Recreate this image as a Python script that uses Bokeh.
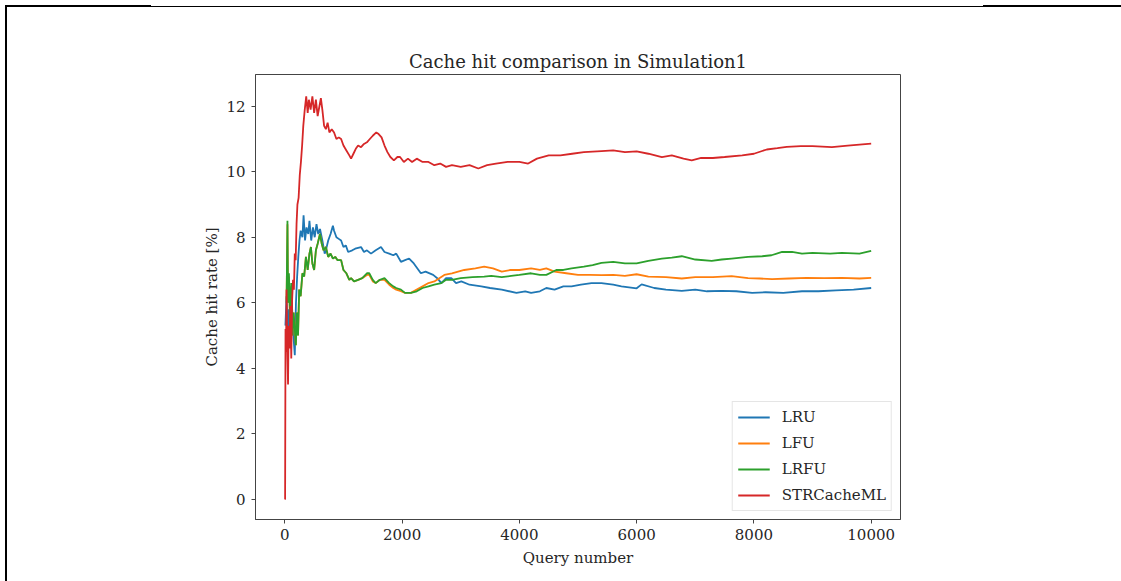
from bokeh.plotting import figure
from bokeh.models import Range1d, FixedTicker, Legend, LegendItem, Div
from bokeh.layouts import column
from bokeh.embed import file_html
from bokeh.resources import INLINE

# ---------------- data (query number, hit rate %) ----------------
LRU = [(10, 5.3), (30, 6.2), (50, 5.0), (70, 5.8), (90, 5.2), (110, 6.4), (130, 5.6), (150, 4.9),
       (170, 4.4), (190, 6.0), (210, 6.8), (230, 7.4), (250, 7.9), (270, 8.2), (300, 8.0), (320, 8.67),
       (345, 7.9), (370, 8.3), (400, 8.1), (420, 8.5), (450, 7.9), (480, 8.3), (510, 8.0), (540, 8.4),
       (570, 8.1), (600, 8.25), (640, 7.9), (680, 7.5), (700, 7.6), (740, 7.9), (780, 8.1), (820, 8.35),
       (840, 8.2), (880, 8.0), (920, 7.95), (960, 7.9), (1000, 7.7), (1040, 7.75), (1080, 7.55),
       (1150, 7.6), (1200, 7.65), (1300, 7.7), (1350, 7.55), (1400, 7.6), (1470, 7.5), (1550, 7.6),
       (1640, 7.7), (1700, 7.55), (1780, 7.5), (1850, 7.45), (1900, 7.5), (1980, 7.25), (2050, 7.3),
       (2120, 7.35), (2200, 7.2), (2320, 6.9), (2400, 6.95), (2530, 6.85), (2600, 6.75), (2670, 6.6),
       (2750, 6.75), (2840, 6.75), (2920, 6.6), (3010, 6.65), (3150, 6.55), (3350, 6.5), (3500, 6.45),
       (3700, 6.4), (3950, 6.3), (4100, 6.35), (4200, 6.3), (4350, 6.35), (4460, 6.45), (4600, 6.4),
       (4750, 6.5), (4890, 6.5), (5050, 6.55), (5230, 6.6), (5400, 6.6), (5600, 6.55), (5740, 6.5),
       (6000, 6.44), (6085, 6.56), (6300, 6.45), (6500, 6.4), (6770, 6.36), (7000, 6.4), (7200, 6.35),
       (7450, 6.36), (7700, 6.35), (7970, 6.3), (8200, 6.32), (8500, 6.3), (8820, 6.35), (9100, 6.35),
       (9400, 6.38), (9700, 6.4), (10000, 6.45)]

LFU = [(30, 6.1), (45, 8.4), (55, 6.0), (70, 6.8), (90, 5.4), (110, 6.5), (130, 5.0), (150, 5.7),
       (170, 5.2), (188, 4.7), (205, 5.7), (225, 5.0), (245, 6.4), (270, 6.2), (300, 6.9), (330, 6.8),
       (360, 7.4), (390, 7.0), (420, 7.5), (445, 7.7), (470, 7.2), (500, 7.0), (530, 7.6), (560, 7.8),
       (600, 8.1), (630, 7.8), (660, 7.6), (700, 7.7), (740, 7.4), (780, 7.5), (820, 7.35), (860, 7.4),
       (900, 7.3), (960, 7.3), (1000, 7.0), (1050, 6.9), (1100, 6.7), (1130, 6.75), (1180, 6.65),
       (1250, 6.7), (1320, 6.75), (1400, 6.85), (1440, 6.85), (1500, 6.65), (1550, 6.6), (1620, 6.7),
       (1700, 6.7), (1780, 6.55), (1850, 6.45), (1900, 6.4), (1980, 6.35), (2050, 6.3), (2150, 6.3),
       (2250, 6.4), (2350, 6.5), (2450, 6.6), (2550, 6.65), (2720, 6.85), (2850, 6.9), (3060, 7.0),
       (3250, 7.05), (3400, 7.1), (3550, 7.05), (3700, 6.95), (3850, 7.0), (4000, 7.0), (4200, 7.05),
       (4350, 7.0), (4460, 7.05), (4600, 6.95), (4800, 6.9), (5000, 6.85), (5200, 6.85), (5400, 6.84),
       (5600, 6.85), (5800, 6.82), (6000, 6.87), (6200, 6.8), (6500, 6.78), (6770, 6.74), (7000, 6.78),
       (7300, 6.78), (7620, 6.81), (7900, 6.75), (8100, 6.74), (8310, 6.72), (8600, 6.74), (8900, 6.76),
       (9200, 6.75), (9500, 6.76), (9800, 6.74), (10000, 6.76)]

LRFU = [(30, 6.0), (45, 8.5), (55, 6.0), (70, 6.9), (90, 5.4), (110, 6.6), (130, 5.0), (150, 5.7),
        (170, 5.2), (188, 4.7), (205, 5.7), (225, 5.0), (245, 6.4), (270, 6.2), (300, 6.9), (330, 6.8),
        (360, 7.4), (390, 7.0), (420, 7.5), (445, 7.7), (470, 7.2), (500, 7.0), (530, 7.6), (560, 7.8),
        (600, 8.1), (630, 7.8), (660, 7.6), (700, 7.7), (740, 7.4), (780, 7.5), (820, 7.35), (860, 7.4),
        (900, 7.3), (960, 7.3), (1000, 7.0), (1050, 6.9), (1100, 6.7), (1130, 6.75), (1180, 6.65),
        (1250, 6.7), (1320, 6.75), (1400, 6.9), (1440, 6.9), (1500, 6.7), (1550, 6.6), (1620, 6.7),
        (1700, 6.75), (1780, 6.6), (1850, 6.5), (1900, 6.45), (1980, 6.4), (2050, 6.3), (2150, 6.3),
        (2250, 6.35), (2350, 6.45), (2450, 6.5), (2550, 6.55), (2670, 6.6), (2750, 6.7), (2850, 6.7),
        (3000, 6.75), (3200, 6.78), (3400, 6.8), (3520, 6.82), (3700, 6.78), (3860, 6.82), (4000, 6.85),
        (4200, 6.9), (4350, 6.85), (4460, 6.85), (4630, 7.0), (4750, 7.0), (4890, 7.05), (5100, 7.1),
        (5250, 7.15), (5400, 7.22), (5600, 7.25), (5800, 7.2), (6000, 7.2), (6200, 7.28), (6430, 7.35),
        (6600, 7.38), (6770, 7.42), (7000, 7.32), (7280, 7.28), (7450, 7.32), (7620, 7.35), (7900, 7.4),
        (8140, 7.42), (8300, 7.45), (8480, 7.55), (8650, 7.55), (8820, 7.5), (9000, 7.52), (9300, 7.5),
        (9500, 7.52), (9800, 7.5), (10000, 7.58)]

STRCacheML = [(0, 0.0), (5, 0.0), (12, 5.2), (20, 4.5), (30, 6.4), (40, 4.8), (55, 3.5), (65, 5.3),
              (80, 4.6), (95, 5.9), (110, 4.3), (125, 6.1), (140, 6.7), (155, 6.4), (170, 7.5), (185, 7.3),
              (200, 8.4), (215, 9.0), (235, 9.2), (255, 9.9), (275, 10.3), (295, 10.8), (315, 11.4),
              (340, 11.9), (365, 12.3), (390, 11.8), (410, 12.2), (440, 11.9), (470, 12.3), (500, 11.8),
              (530, 12.2), (560, 11.7), (590, 12.0), (615, 12.25), (640, 11.9), (670, 11.4), (700, 11.3),
              (730, 11.5), (760, 11.2), (800, 11.3), (840, 11.2), (880, 11.0), (920, 11.05), (960, 11.0),
              (1000, 10.8), (1050, 10.65), (1100, 10.5), (1130, 10.4), (1170, 10.55), (1210, 10.7),
              (1250, 10.8), (1300, 10.75), (1350, 10.85), (1400, 10.9), (1450, 11.0), (1500, 11.1),
              (1560, 11.2), (1600, 11.15), (1650, 11.05), (1700, 10.8), (1750, 10.6), (1800, 10.45),
              (1860, 10.35), (1920, 10.45), (1965, 10.45), (2030, 10.3), (2100, 10.4), (2170, 10.3),
              (2250, 10.4), (2350, 10.3), (2450, 10.3), (2550, 10.2), (2650, 10.25), (2750, 10.15),
              (2850, 10.2), (3000, 10.15), (3150, 10.2), (3300, 10.1), (3450, 10.2), (3600, 10.25),
              (3800, 10.3), (4000, 10.3), (4150, 10.25), (4300, 10.4), (4500, 10.5), (4700, 10.5),
              (4900, 10.55), (5100, 10.6), (5400, 10.63), (5600, 10.65), (5800, 10.6), (6000, 10.62),
              (6200, 10.55), (6430, 10.45), (6600, 10.5), (6800, 10.4), (6940, 10.35), (7100, 10.42),
              (7300, 10.42), (7500, 10.45), (7800, 10.5), (8000, 10.55), (8220, 10.68), (8400, 10.72),
              (8560, 10.76), (8800, 10.78), (9000, 10.78), (9330, 10.75), (9600, 10.8), (9800, 10.83),
              (10000, 10.86)]

series_names = ["LRU", "LFU", "LRFU", "STRCacheML"]
series_data = [LRU, LFU, LRFU, STRCacheML]
series_colors = ["#1f77b4", "#ff7f0e", "#2ca02c", "#d62728"]
x_ticks = [0, 2000, 4000, 6000, 8000, 10000]
y_ticks = [0, 2, 4, 6, 8, 10, 12]

FONT = "DejaVu Serif"
TXT = "#262626"

p = figure(width=1105, height=573, output_backend="svg", toolbar_location=None,
           x_range=Range1d(-500, 10500), y_range=Range1d(-0.62, 12.97),
           title="Cache hit comparison in Simulation1")
p.min_border_left = 255
p.min_border_right = 205
p.min_border_top = 74
p.min_border_bottom = 54

p.title.align = "center"
p.title.text_font = FONT
p.title.text_font_size = "18px"
p.title.text_font_style = "normal"
p.title.text_color = TXT
p.title.standoff = 6

p.xgrid.visible = False
p.ygrid.visible = False
p.outline_line_color = "#444444"
p.outline_line_width = 1
p.background_fill_color = "white"
p.border_fill_color = "white"

for ax in (p.xaxis[0], p.yaxis[0]):
    ax.axis_line_color = "#444444"
    ax.major_tick_line_color = "#444444"
    ax.major_tick_out = 4
    ax.major_tick_in = 0
    ax.minor_tick_line_color = None
    ax.major_label_text_font = FONT
    ax.major_label_text_font_size = "15px"
    ax.major_label_text_color = TXT
    ax.axis_label_text_font = FONT
    ax.axis_label_text_font_size = "15px"
    ax.axis_label_text_font_style = "normal"
    ax.axis_label_text_color = TXT

p.xaxis[0].ticker = FixedTicker(ticks=x_ticks)
p.yaxis[0].ticker = FixedTicker(ticks=y_ticks)
p.xaxis[0].axis_label = "Query number"
p.yaxis[0].axis_label = "Cache hit rate [%]"
p.xaxis[0].major_label_standoff = 5
p.yaxis[0].major_label_standoff = 6
p.xaxis[0].axis_label_standoff = 6
p.yaxis[0].axis_label_standoff = 2

items = []
for name, data, color in zip(series_names, series_data, series_colors):
    xs = [d[0] for d in data]
    ys = [d[1] for d in data]
    r = p.line(xs, ys, line_color=color, line_width=1.8)
    items.append(LegendItem(label=name, renderers=[r]))

legend = Legend(items=items, location="bottom_right")
legend.label_text_font = FONT
legend.label_text_font_size = "15px"
legend.label_text_color = TXT
legend.glyph_width = 32
legend.glyph_height = 20
legend.label_height = 20
legend.label_standoff = 12
legend.spacing = 6
legend.padding = 5
legend.margin = 8
legend.border_line_color = "#cccccc"
legend.border_line_width = 1
legend.background_fill_alpha = 0.8
p.add_layout(legend)

deco = Div(width=0, height=0, text=(
    '<div style="position:fixed;left:5px;top:5px;width:146px;height:2px;background:#000"></div>'
    '<div style="position:fixed;left:150px;top:6px;width:834px;height:1px;background:#000"></div>'
    '<div style="position:fixed;left:983px;top:5px;width:138px;height:2px;background:#000"></div>'
    '<div style="position:fixed;left:5px;top:5px;width:2px;height:576px;background:#000"></div>'
))

layout = column(p, deco)
open("out.html", "w").write(file_html(layout, INLINE))
